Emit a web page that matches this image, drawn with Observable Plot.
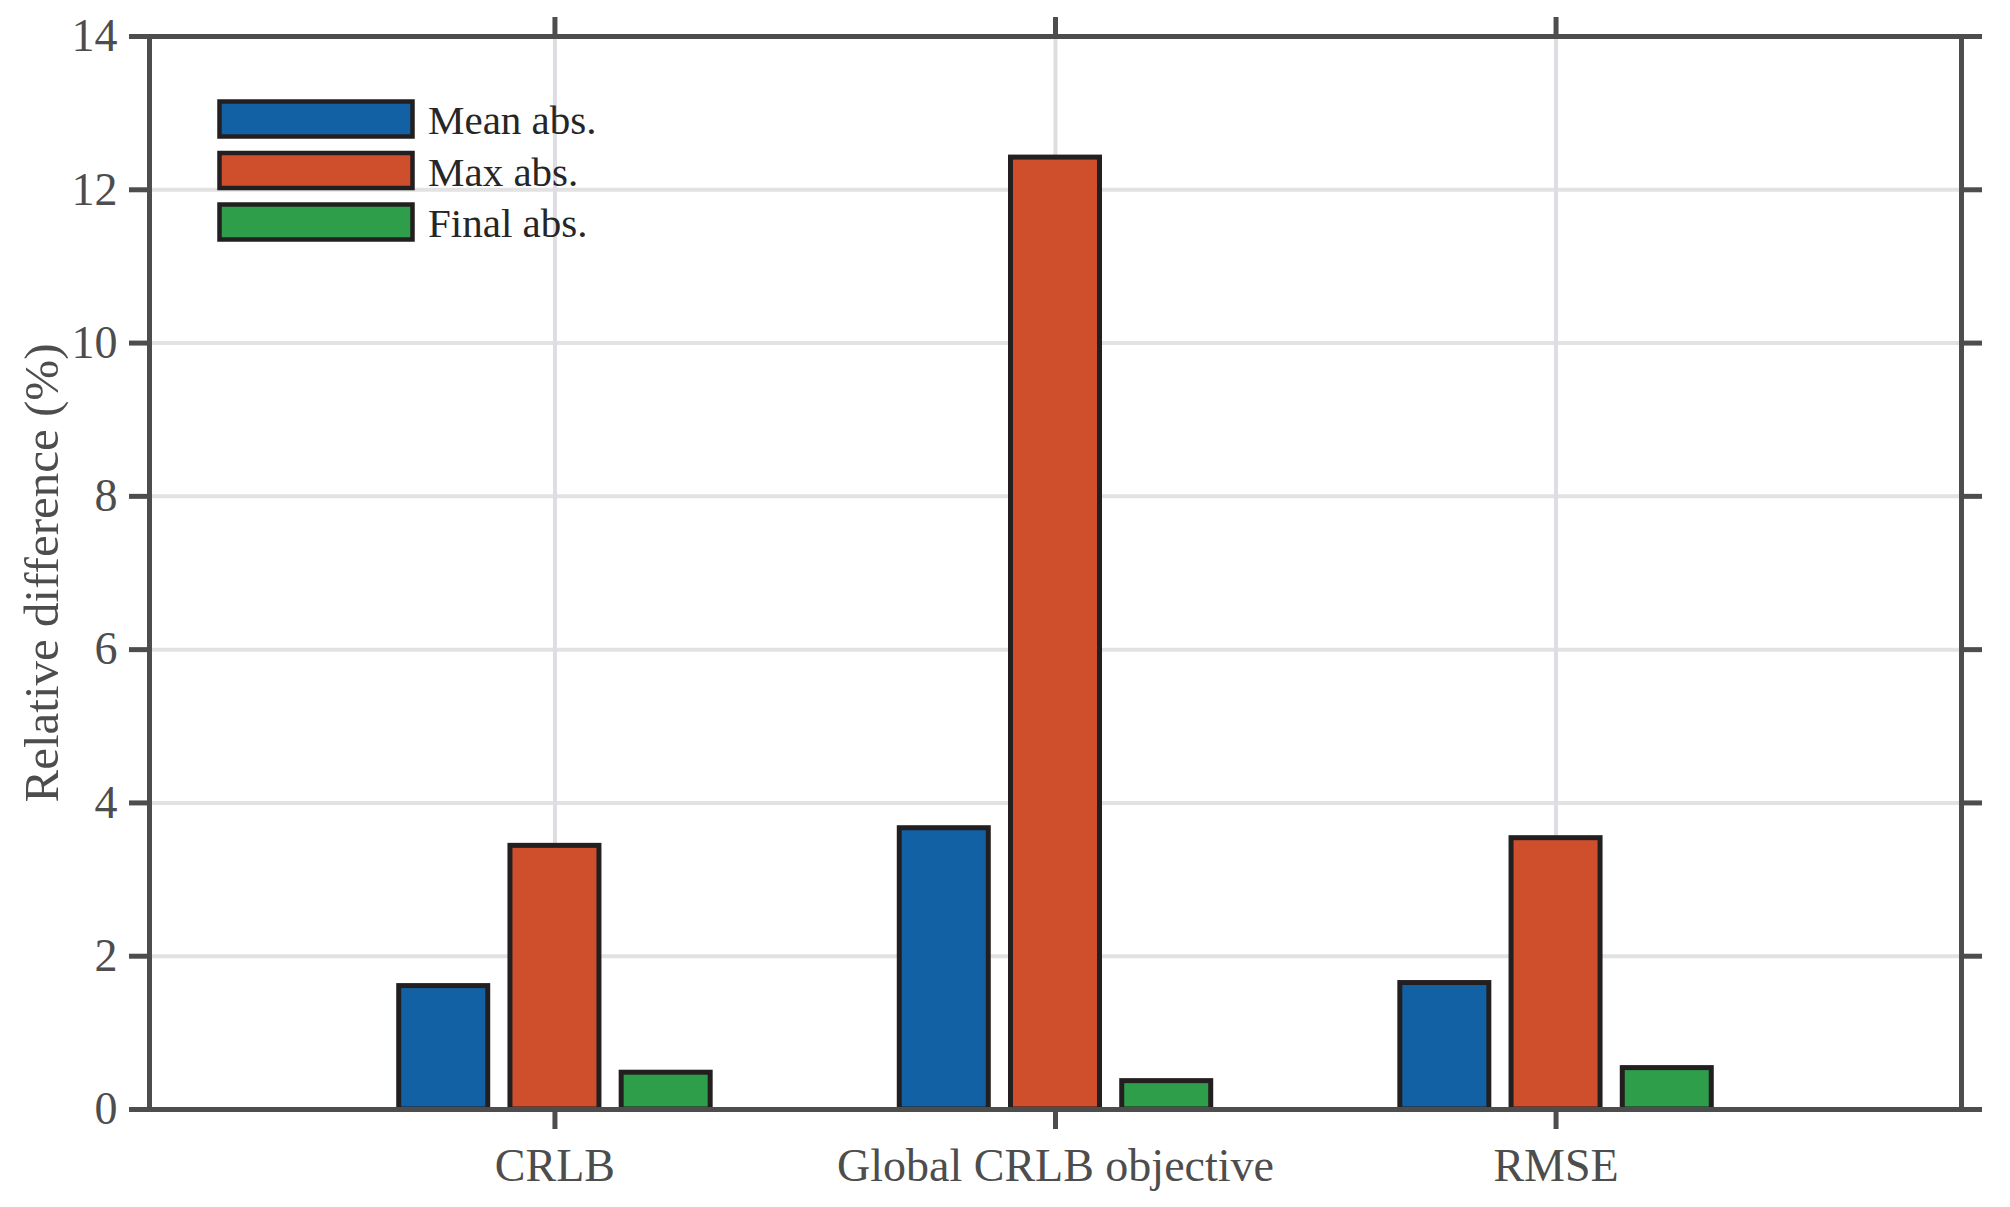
<!DOCTYPE html>
<html>
<head>
<meta charset="utf-8">
<script src="https://cdn.jsdelivr.net/npm/d3@7"></script>
<script src="https://cdn.jsdelivr.net/npm/@observablehq/plot@0.6"></script>
<style>
  html, body { margin: 0; padding: 0; background: #fff; overflow: hidden; }
  #chart svg { display: block; }
</style>
</head>
<body>
<div id="chart"></div>
<script>
// ---- data ----
const categories = ["CRLB", "Global CRLB objective", "RMSE"];
const seriesNames = ["Mean abs.", "Max abs.", "Final abs."];
const meanAbs = [1.61, 3.67, 1.65];
const maxAbs = [3.44, 12.42, 3.54];
const finalAbs = [0.48, 0.37, 0.54];
const yTicks = [0, 2, 4, 6, 8, 10, 12, 14];
const colors = ["#1361A5", "#CF4E2C", "#2E9E4B"];
const yLabel = "Relative difference (%)";

// MATLAB grouped-bar geometry (3 series)
const groupOffset = 0.2222;
const barHalf = 0.0889;

const seriesValues = [meanAbs, maxAbs, finalAbs];
const rows = [];
categories.forEach((c, ci) => {
  seriesValues.forEach((vals, si) => {
    rows.push({category: c, ci, series: seriesNames[si], si, value: vals[ci]});
  });
});

const W = 2010, H = 1207;
const axisColor = "#4d4d4d";
const font = "'Liberation Serif', 'Times New Roman', serif";

const plot = Plot.plot({
  width: W,
  height: H,
  marginLeft: 149,
  marginRight: 49,
  marginTop: 36,
  marginBottom: 98,
  style: {fontFamily: font, fontSize: "46px", color: axisColor, background: "#fff"},
  x: {type: "linear", domain: [0.19, 3.81]},
  y: {domain: [0, 14]},
  color: {domain: seriesNames, range: colors},
  marks: [
    Plot.gridY({ticks: yTicks, stroke: "#e2e2e2", strokeOpacity: 1, strokeWidth: 4}),
    Plot.gridX({ticks: [1, 2, 3], stroke: "#dedee2", strokeOpacity: 1, strokeWidth: 4}),
    Plot.rect(rows, {
      x1: d => d.ci + 1 + (d.si - 1) * groupOffset - barHalf,
      x2: d => d.ci + 1 + (d.si - 1) * groupOffset + barHalf,
      y1: 0,
      y2: "value",
      fill: "series",
      stroke: "#231f20",
      strokeWidth: 5
    }),
    Plot.frame({stroke: axisColor, strokeWidth: 5}),
    Plot.axisY({ticks: yTicks, tickSize: 20, tickPadding: 12, strokeWidth: 5, label: null, fill: axisColor}),
    Plot.axisY({anchor: "right", ticks: yTicks, tickSize: 20, tickFormat: () => "", strokeWidth: 5, label: null}),
    Plot.axisX({ticks: [1, 2, 3], tickFormat: i => categories[i - 1], tickSize: 20, tickPadding: 19, strokeWidth: 5, label: null, fill: axisColor}),
    Plot.axisX({anchor: "top", ticks: [1, 2, 3], tickFormat: () => "", tickSize: 20, strokeWidth: 5, label: null})
  ]
});

document.getElementById("chart").appendChild(plot);

// ---- y-axis title ----
const svg = d3.select(plot);
svg.append("text")
  .attr("transform", "translate(58,573) rotate(-90)")
  .attr("text-anchor", "middle")
  .attr("font-family", font)
  .attr("font-size", 49)
  .attr("fill", axisColor)
  .text(yLabel);

// ---- legend ----
const lg = svg.append("g").attr("transform", "translate(219.5,101.5)");
seriesNames.forEach((name, i) => {
  const g = lg.append("g").attr("transform", `translate(0,${i * 51.5})`);
  g.append("rect")
    .attr("width", 193).attr("height", 35)
    .attr("fill", colors[i])
    .attr("stroke", "#231f20").attr("stroke-width", 4.5);
  g.append("text")
    .attr("x", 208.5).attr("y", 32.5)
    .attr("text-anchor", "start")
    .attr("font-family", font)
    .attr("font-size", 41)
    .attr("fill", "#262626")
    .text(name);
});
</script>
</body>
</html>
